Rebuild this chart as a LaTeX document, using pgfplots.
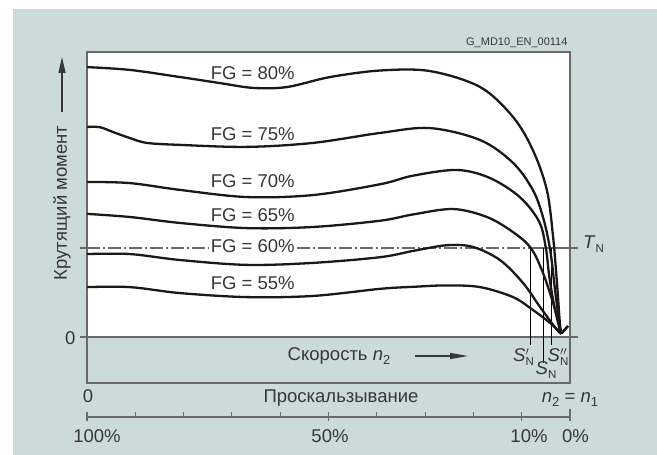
\documentclass[border=0pt]{standalone}
\usepackage{fontspec}
\setmainfont{Liberation Sans}
\usepackage{pgfplots}
\pgfplotsset{compat=1.18}
\usetikzlibrary{arrows.meta}
\definecolor{bgc}{RGB}{204,218,218}
\definecolor{txt}{RGB}{55,55,55}
\definecolor{axg}{RGB}{105,105,105}
\definecolor{crv}{RGB}{28,24,25}
\newcommand\bigf{\fontsize{18.5bp}{22bp}\selectfont}
\newcommand\subf{\fontsize{13bp}{15bp}\selectfont}
\newcommand\smf{\fontsize{11.5bp}{13bp}\selectfont}
\newcommand\sub[1]{\raisebox{-4bp}{\subf #1}}
\newcommand\subs[1]{\raisebox{-4bp}{\smf #1}}
\begin{document}
\begin{tikzpicture}[x=1bp,y=1bp,font=\bigf,text=txt]
\useasboundingbox (0,0) rectangle (657,455);
\fill[white] (0,0) rectangle (657,455);
\fill[bgc] (13,0) rectangle (657,446);
\begin{axis}[at={(87bp,118bp)}, anchor=south west, scale only axis,
  width=483bp, height=285bp, xmin=0, xmax=100, ymin=0, ymax=100,
  ticks=none, clip=false,
  axis line style={draw=axg, line width=1.3bp},
  axis background/.style={fill=white},
  crvst/.style={draw=crv, line width=2.3bp, smooth, tension=0.55, mark=none}]
% T_N line
\draw[draw=axg, line width=1.2bp, dash pattern=on 13bp off 3bp on 2bp off 3bp] (axis cs:0,31.2) -- (axis cs:91.9,31.2);
\draw[draw=axg, line width=1.2bp] (axis cs:91.9,31.2) -- (axis cs:101.66,31.2);
\draw[draw=axg, line width=1.2bp] (axis cs:-1.45,31.2) -- (axis cs:0,31.2);
\draw[draw=axg, line width=1.3bp] (axis cs:-1.45,0) -- (axis cs:101.66,0);
% S lines
\draw[black, line width=0.9bp] (axis cs:91.9,31.2) -- (axis cs:91.9,-2.8);
\draw[black, line width=0.9bp] (axis cs:94.6,31.2) -- (axis cs:94.6,-9.1);
\draw[black, line width=0.9bp] (axis cs:96.1,31.2) -- (axis cs:96.1,-2.8);
% curves
\addplot[crvst] coordinates {(0,94.7) (8.9,93.7) (19.3,91.2) (27.5,89.1) (34.4,87.4) (41.4,87.7) (50.3,91.2) (60.7,93.5) (71.0,93.3) (81.4,87.7) (88.2,77.2) (92.3,65.6) (95.2,51.6) (96.5,35.1) (97.3,18.9) (97.9,4.9) (98.2,1.2)};
\addplot[crvst] coordinates {(0,73.7) (2.7,73.6) (5.4,71.9) (8.9,69.8) (12.4,68.1) (19.3,67.4) (33.1,66.7) (46.8,68.1) (60.7,71.6) (71.0,73.3) (81.4,69.1) (88.2,61.1) (92.3,51.6) (94.4,42.1) (95.9,30.5) (96.9,16.5) (97.9,3.5) (98.2,1.2)};
\addplot[crvst] coordinates {(0,54.4) (8.9,54.0) (19.3,51.6) (33.1,49.1) (46.8,49.8) (60.7,53.6) (67.5,56.6) (76.6,58.6) (83.4,55.8) (89.6,49.1) (93.6,40.5) (95.0,31.2) (95.7,21.4) (96.7,11.2) (97.9,2.5) (98.2,1.2)};
\addplot[crvst] coordinates {(0,43.2) (8.9,42.1) (19.3,40.0) (33.1,38.2) (46.8,38.6) (60.7,40.8) (67.5,43.0) (75.8,44.9) (82.8,42.1) (88.2,36.8) (91.9,31.2) (94.4,22.5) (96.5,11.9) (97.9,3.2) (98.2,1.2)};
\addplot[crvst] coordinates {(0,29.1) (8.9,29.1) (19.3,27.0) (33.1,25.3) (46.8,26.0) (60.7,28.0) (67.5,30.2) (74.5,32.2) (79.9,31.6) (85.5,27.0) (90.3,18.9) (93.8,10.5) (97.3,2.5) (98.2,1.2)};
\addplot[crvst] coordinates {(0,17.5) (8.9,17.5) (19.3,15.4) (33.1,14.0) (46.8,14.4) (60.7,16.9) (67.5,17.6) (74.5,18.1) (81.4,17.5) (88.2,14.0) (92.3,9.5) (95.9,4.9) (98.2,1.2)};
\addplot[draw=crv, line width=2.6bp, mark=none] coordinates {(98.2,1.2) (99.6,3.9)};
% labels
\node[anchor=base] at (axis cs:34.3,90.5) {FG = 80\%};
\node[anchor=base] at (axis cs:34.3,69.1) {FG = 75\%};
\node[anchor=base] at (axis cs:34.3,52.6) {FG = 70\%};
\node[anchor=base] at (axis cs:34.3,40.4) {FG = 65\%};
\node[anchor=base, fill=white, inner sep=1.5bp] at (axis cs:34.3,29.5) {FG = 60\%};
\node[anchor=base] at (axis cs:34.3,16.8) {FG = 55\%};
\end{axis}
% lower scales
\draw[axg, line width=1.3bp] (87,118) -- (87,72) -- (570,72) -- (570,118);
\draw[axg, line width=1.3bp] (87,38) -- (570,38);
\foreach \i in {0,...,9} \draw[axg, line width=1.1bp] (87+48.3*\i,38) -- ++(0,4.5);
\foreach \i in {0,5,9} \draw[axg, line width=1.1bp] (87+48.3*\i,42.5) -- ++(0,-8.5);
\draw[axg, line width=1.1bp] (570,34) -- (570,46);
% texts
\node[anchor=east] at (79,116.5) {0};
\node[anchor=base] at (88,52) {0};
\node[anchor=base] at (341,52) {Проскальзывание};
\node[anchor=base] at (570,52) {\textit{n}\sub{2} = \textit{n}\sub{1}};
\node[anchor=base] at (339,94) {Скорость \textit{n}\sub{2}};
\draw[txt, line width=1.2bp, -{Triangle[length=18bp,width=6bp]}] (415,99) -- (468,99);
\node[anchor=base] at (97,12.5) {100\%};
\node[anchor=base] at (330,12.5) {50\%};
\node[anchor=base] at (529,12.5) {10\%};
\node[anchor=base] at (575.5,12.5) {0\%};
\node[anchor=base west, inner sep=0] at (583,206) {\textit{T}\subs{N}};
\node[anchor=base west, inner sep=0] at (513,93) {\textit{S}\rlap{$^{\prime}$}\subs{N}};
\node[anchor=base west, inner sep=0] at (535.5,80) {\textit{S}\subs{N}};
\node[anchor=base west, inner sep=0] at (547.5,93) {\textit{S}\rlap{$^{\prime\prime}$}\subs{N}};
\node[rotate=90] at (62,252) {Крутящий момент};
\draw[txt, line width=1.2bp, -{Triangle[length=16bp,width=7bp]}] (62,343) -- (62,398);
\node[anchor=east, font=\fontsize{11bp}{13bp}\selectfont] at (571,412) {G\_MD10\_EN\_00114};
\end{tikzpicture}
\end{document}
